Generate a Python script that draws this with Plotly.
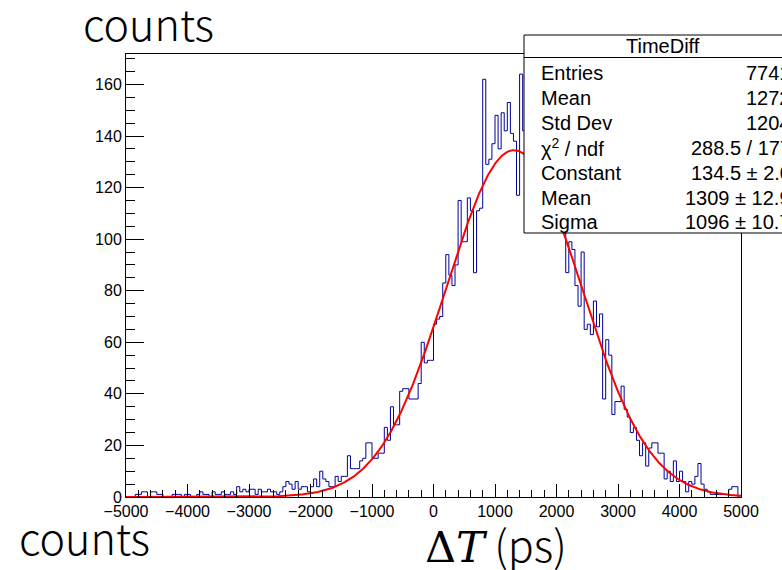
import numpy as np
import plotly.graph_objects as go

# ---------------- data ----------------
BIN_LOW = -5000
BIN_HIGH = 5000
N_BINS = 200

counts = [
    0, 0, 0, 1, 1, 2, 2, 0, 2, 2,          # -5000 .. -4550
    1, 1, 0, 0, 0, 1, 1, 1, 0, 1,          # -4500 .. -4050
    1, 0, 0, 1, 2, 1, 1, 0, 2, 1,          # -4000 .. -3550
    1, 2, 1, 1, 2, 1, 4, 2, 3, 2,          # -3500 .. -3050
    3, 3, 1, 3, 2, 2, 3, 2, 2, 1,          # -3000 .. -2550
    2, 4, 6, 5, 3, 6, 3, 4, 4, 2,          # -2500 .. -2050
    4, 7, 4, 10, 7, 6, 4, 4, 8, 6,         # -2000 .. -1550
    8, 8, 16, 11, 11, 11, 14, 15, 21, 21,  # -1500 .. -1050
    15, 15, 17, 17, 27, 22, 35, 28, 28, 41,  # -1000 .. -550
    42, 42, 38, 38, 38, 44, 60, 52, 53, 53,  # -500 .. -50
    67, 69, 70, 83, 94, 86, 82, 90, 115, 99,        # 0 .. 450
    99, 116, 111, 87, 111, 112, 162, 129, 131, 137,  # 500 .. 950
    148, 135, 149, 142, 153, 141, 138, 117, 164, 142,  # 1000 .. 1450
    131, 140, 123, 134, 128, 121, 132, 115, 124, 111,  # 1500 .. 1950
    118, 107, 113, 87, 99, 96, 82, 74, 95, 65,       # 2000 .. 2450
    67, 63, 76, 66, 71, 38, 61, 55, 32, 37,          # 2500 .. 2950
    37, 43, 34, 31, 25, 27, 22, 16, 21, 12,          # 3000 .. 3450
    19, 21, 21, 17, 17, 7, 10, 6, 14, 6,             # 3500 .. 3950
    10, 6, 2, 6, 5, 8, 13, 5, 3, 2,                  # 4000 .. 4450
    1, 1, 1, 1, 1, 1, 3, 4, 4, 0,                    # 4500 .. 4950
]

fit_constant = 134.5
fit_mean = 1309.0
fit_sigma = 1096.0

hist_name = "TimeDiff"
stats_labels = ["Entries", "Mean", "Std Dev", "χ<sup>2</sup> / ndf",
                "Constant", "Mean", "Sigma"]
stats_values = ["7741", "1272", "1204", "288.5 / 177",
                "134.5 ± 2.0", "1309 ± 12.9", "1096 ± 10.7"]

x_ticks = list(range(-5000, 5001, 1000))
y_ticks = list(range(0, 161, 20))
Y_MAX = 171.8

# ---------------- geometry helpers ----------------
W, H = 782, 570
L, R, T, B = 126, 41, 54, 73
PW, PH = W - L - R, H - T - B


def px(x):
    return (x - L) / PW


def py(y):
    return (H - B - y) / PH


# ---------------- traces ----------------
bin_w = (BIN_HIGH - BIN_LOW) / N_BINS
edges = BIN_LOW + bin_w * np.arange(N_BINS + 1)
step_x = list(edges)
step_y = list(counts) + [counts[-1]]

fx = np.linspace(BIN_LOW, BIN_HIGH, 1201)
fy = fit_constant * np.exp(-0.5 * ((fx - fit_mean) / fit_sigma) ** 2)

fig = go.Figure()
fig.add_trace(go.Scatter(x=step_x, y=step_y, mode="lines",
                         line=dict(color="#000099", width=1, shape="hv"),
                         hoverinfo="skip", showlegend=False))
fig.add_trace(go.Scatter(x=fx, y=fy, mode="lines",
                         line=dict(color="#ff0000", width=2),
                         hoverinfo="skip", showlegend=False))

tickfont = dict(family="Liberation Sans, Arial, sans-serif", size=16, color="black")

fig.update_layout(
    width=W, height=H,
    margin=dict(l=L, r=R, t=T, b=B, pad=0),
    paper_bgcolor="white", plot_bgcolor="white",
    showlegend=False,
)
fig.update_xaxes(
    range=[BIN_LOW, BIN_HIGH], tickmode="array", tickvals=x_ticks,
    ticks="inside", ticklen=13, tickwidth=1, tickcolor="black",
    showline=True, linecolor="black", linewidth=1, mirror=True,
    showgrid=False, zeroline=False, tickfont=tickfont,
    minor=dict(tickmode="linear", tick0=BIN_LOW, dtick=200, ticks="inside",
               ticklen=7, tickwidth=1, tickcolor="black", showgrid=False),
)
fig.update_yaxes(
    range=[0, Y_MAX], tickmode="array", tickvals=y_ticks,
    ticks="inside", ticklen=18, tickwidth=1, tickcolor="black",
    showline=True, linecolor="black", linewidth=1, mirror=True,
    showgrid=False, zeroline=False, tickfont=tickfont,
    minor=dict(tickmode="linear", tick0=0, dtick=5, ticks="inside",
               ticklen=9, tickwidth=1, tickcolor="black", showgrid=False),
)

# ---------------- stats box ----------------
box_l, box_r, box_t, box_b = 524, 802, 35, 233
head_b = 57.5
fig.add_shape(type="rect", xref="paper", yref="paper",
              x0=px(box_l), x1=px(box_r), y0=py(box_b), y1=py(box_t),
              line=dict(color="black", width=1), fillcolor="white", layer="above")
fig.add_shape(type="line", xref="paper", yref="paper",
              x0=px(box_l), x1=px(box_r), y0=py(head_b), y1=py(head_b),
              line=dict(color="black", width=1), layer="above")

statfont = dict(family="Liberation Sans, Arial, sans-serif", size=20, color="black")
fig.add_annotation(x=px((box_l + box_r) / 2), y=py(46), xref="paper", yref="paper",
                   text=hist_name, showarrow=False, xanchor="center", yanchor="middle",
                   font=statfont)
row_y = [73, 98, 123, 148, 173, 198, 222]
for lab, val, yy in zip(stats_labels, stats_values, row_y):
    fig.add_annotation(x=px(539), y=py(yy), xref="paper", yref="paper", text=lab,
                       showarrow=False, xanchor="left", yanchor="middle", font=statfont)
    fig.add_annotation(x=px(793), y=py(yy), xref="paper", yref="paper", text=val,
                       showarrow=False, xanchor="right", yanchor="middle", font=statfont)

# ---------------- big labels ----------------
bigfont = dict(family="Noto Sans CJK SC, Noto Sans, sans-serif", size=43, color="black", weight=300)
fig.add_annotation(x=px(148), y=py(22), xref="paper", yref="paper", text="counts",
                   showarrow=False, xanchor="center", yanchor="middle", font=bigfont)
fig.add_annotation(x=px(84), y=py(536), xref="paper", yref="paper", text="counts",
                   showarrow=False, xanchor="center", yanchor="middle", font=bigfont)
fig.add_annotation(x=px(496), y=py(543), xref="paper", yref="paper",
                   text='<span style="font-family:DejaVu Serif">Δ<i>T</i></span> (ps)',
                   showarrow=False, xanchor="center", yanchor="middle", font=bigfont)

fig.write_html("out.html")
